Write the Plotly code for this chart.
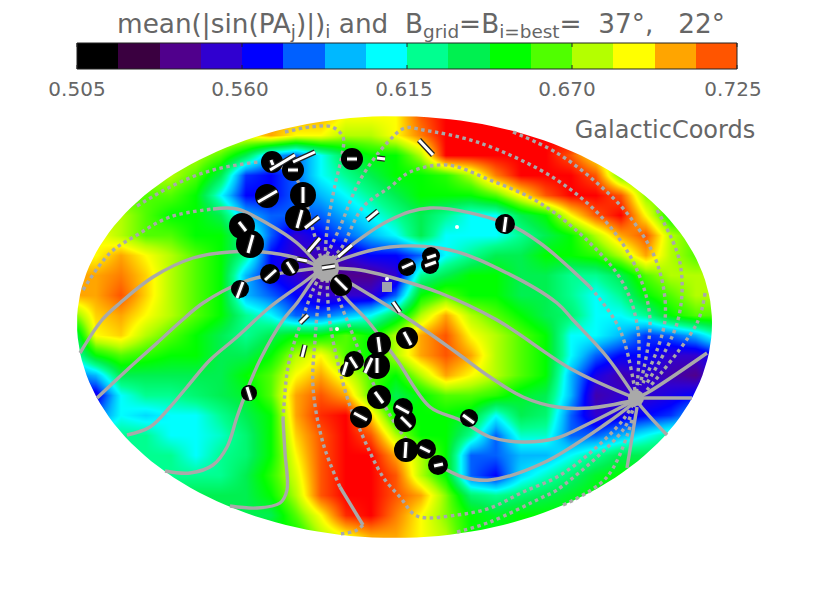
import numpy as np
import plotly.graph_objects as go

W, H = 830, 598
GREY = "#a9a9a9"

# ---- colour bar
BAR_COLORS = ["#000000", "#3a0040", "#50008c", "#3000d0", "#0000ff", "#0060ff", "#00b8ff", "#00ffff",
              "#00ff90", "#00f050", "#00ff00", "#50ff00", "#b4ff00", "#ffff00", "#ffa500", "#ff5500", "#ff0000"]
BAR_VALUES = [0.505, 0.51875, 0.5325, 0.54625, 0.56, 0.57375, 0.5875, 0.60125,
              0.615, 0.62875, 0.6425, 0.65625, 0.67, 0.68375, 0.6975, 0.71125]
TICK_LABELS = ["0.505", "0.560", "0.615", "0.670", "0.725"]
TICK_LABEL_X = [77, 240, 404, 567, 733]

# ---- sky map, read in colour-bar steps (0 = 0.505, 16 = 0.725)
MAP_X = list(range(70, 721, 25))
MAP_Y = list(range(115, 536, 20))
MAP_STEPS = [
 [14,14,14,14,14,14,14,14,14,14,14,13,13,13,15,16,16,16,16,16,16,14,12,12,12,12,12],
 [13,13,13,13,13,13,13,13,14,13,13,12,12,13,14.5,16,16,16,16,16,16,14,12,12,12,12,12],
 [12,12,12,12,12,12,11,9,6,5,7,9,10,10,12,16,16,16,16,16,15,13,11,11,11,11,11],
 [12,12,12,12,12,11,9,4.5,4,5,7,8,9,10,10,10.5,12,14.5,16,16,16,15,11,11,11,11,11],
 [11,11,11,11,11,10,7,4,4,5,6,7,8,9,10,10,10,11,13,15,16,16,15,11.5,11,11,11],
 [12,12,12,11,10,10,9,6,5,5,5,6,7,8,9,8,7,7,9,10,13,15,16,13,10,10,10],
 [13,13,12,11,11,10,10,8,5,3,4,5,6,7,9,7,7,7,8,9,10,12,14,15,12,11,11],
 [13,13,14,13,12,11,10,8,4,3,2.5,3,4,4,5,7,8,9,9,10,10,10.5,12,14,12,11,11],
 [14,14,14.5,13.5,12,11,10,6,4,3,2,2,2,3,8,9,10,10,9,9,8,8,9,11,12,12,12],
 [14,14,15,13.5,12,11,10,6,5,4,3,3,3,5,10,11,10,10,9,9,8,7,8,10,11,12,12],
 [11,13.5,14,13,12,11,10,8,7,5,5,6,7,9,12,14,12,11,10,9,8.5,7,7,8,10,11,11],
 [8,13,13.5,12,11,10,9,8,9,10,10,11,10,12,14,15,13,12,11,10,7,7,6,4.5,5,6,8],
 [7,10,11,10.5,10,10,9,9,10,12,13,11,10,12,14,15,14,12,11,10,7,5,4,4,3,3,4],
 [5,6,9,9,9,9,9,10,11,13,14,12.5,11,10,12,14,13,12,11,10,6,3.5,2.5,3,2.5,2,4],
 [3.5,3.5,7,8,8,8.5,9,9.5,11,14,15,14,11,9,10,11,11,10.5,9.5,9,6,2.5,3,3,3.5,4,6],
 [5,5,7,6.5,7,7,8,9,10,14,15.5,16,13.5,10,10,10,9.5,7,9,8.5,5,3,3.5,4,4.5,6,6],
 [8,8,8,8,7,7,7.5,8.5,10,13.5,15,16,15,12,10,10,8,5,7.5,7.5,5,5,6,7,8,8,8],
 [8,8,8,8,8,7,8,8.5,10,13,15,16,16,14,12,10,5,5,6,6,7,8,9,9,9,9,9],
 [8,8,8,8,8,8,8,9,10.5,12.5,15,16,16,15,12,10,5,4,6.5,7.5,8.5,9.5,10,10,10,10,10],
 [9,9,9,9,9,9,9,9,10,12,15,16,16,15,14,11.5,8.5,8,8.5,9,9.5,10,10,10,10,10,10],
 [9,9,9,9,9,9,9,9,9,11,13,15.5,16,14.5,13,11.5,10,9.5,10,10,10,10,10,10,10,10,10],
 [10,10,10,10,10,10,10,10,10,10,12,13,14,14,13,12,10,10,10,10,10,10,10,10,10,10,10],
]

# ---- grid curves (pixel read-offs)
SOLID_LINES = [
 [(213,209),(237,209),(270,225),(297,243),(320,267)],
 [(80,353),(102,320),(120,303),(153,277),(193,258),(230,252),(263,252),(297,258),(320,267)],
 [(97,398),(127,370),(157,343),(180,322),(203,303),(243,282),(270,275),(303,270),(320,268)],
 [(127,435),(150,427),(170,407),(187,387),(210,360),(237,337),(270,307),(303,283),(320,270)],
 [(165,471),(190,473),(213,465),(227,447),(237,417),(247,390),(260,360),(283,320),(297,303),(313,280),(322,270)],
 [(230,506),(257,508),(280,503),(287,490),(285,453),(283,420)],
 [(328,272),(345,297),(367,320),(397,360),(430,407),(460,420),(490,437),(523,442),(557,438),(590,423),(635,400)],
 [(328,270),(370,295),(410,320),(457,353),(490,377),(523,397),(557,407),(590,408),(635,400)],
 [(328,268),(360,270),(390,277),(440,293),(497,320),(573,370),(635,398)],
 [(328,266),(340,260),(390,247),(450,250),(507,273),(557,303),(573,320),(607,357),(635,397)],
 [(328,264),(345,250),(390,220),(430,208),(505,223),(540,243),(590,287)],
 [(707,353),(647,393),(636,398)],
 [(692,398),(636,398)],
 [(667,435),(640,405),(636,398)],
 [(627,468),(637,407)],
 [(438,465),(463,477),(490,480),(543,463),(607,423),(635,402)],
 [(340,487),(363,525)],
]
DOTTED_LINES = [
 [(137,206),(170,187),(203,173),(237,165),(270,163),(297,180),(313,230),(322,263)],
 [(83,290),(110,253),(137,235),(170,217),(213,209)],
 [(283,420),(287,373),(292,350),(303,317),(313,290),(323,270)],
 [(340,487),(323,443),(313,387),(315,340),(320,290),(325,270)],
 [(327,272),(330,323),(347,397),(360,430),(383,477),(400,497),(417,516),(457,515),(490,508),(523,492),(557,477),(590,453),(623,420),(635,400)],
 [(328,272),(347,320),(373,383),(407,440),(438,465)],
 [(590,287),(620,330),(636,397)],
 [(326,262),(340,250),(363,207),(390,187),(410,172),(447,165),(490,180),(540,203),(590,243),(623,283),(638,330),(636,397)],
 [(327,255),(340,227),(360,180),(387,143),(405,128),(423,130),(480,143),(557,180),(607,223),(637,270),(650,320),(640,385)],
 [(285,132),(310,127),(332,127),(343,137),(342,155),(335,185),(327,230),(325,262)],
 [(513,132),(557,153),(597,183),(630,217),(657,263),(665,320),(643,383)],
 [(657,210),(680,263),(678,320),(647,383)],
 [(705,293),(697,323),(647,390)],
 [(563,505),(607,477),(633,417)],
 [(457,532),(490,522),(543,497),(557,490),(623,430),(635,403)],
 [(363,525),(355,531),(338,534)],
]
POLE_X = [326, 636]
POLE_Y = [268, 398]
POLE_SIZE = [26, 16]

# ---- clusters: centre and radius
DISK_X = [272,293,352,267,303,298,242,250,290,270,240,341,505,407,431,430,249,379,407,354,347,377,379,361,403,405,406,426,438,469]
DISK_Y = [162,170,159,196,195,218,226,244,267,274,289,285,224,267,256,265,393,344,338,361,370,366,397,417,408,421,450,449,465,418]
DISK_R = [11,11,11,12,13,13,13,14,9,10,9,11,10,9,9,9,8,12,11,10,7,13,12,11,10,11,12,10,10,9]

# ---- position-angle bars: x1, y1, x2, y2
BARS = [
 (271,160,273,165),(270,170,295,155),(293,162,315,152),(288,170,298,170),(347,159,357,159),(377,158,385,159),
 (258,202,277,191),(303,187,303,203),(297,228,302,210),(305,228,319,217),(239,222,246,231),(253,235,248,253),
 (308,252,320,238),(338,257,352,245),(367,220,378,211),(300,323,308,315),(297,259,307,261),(322,268,335,266),
 (287,262,294,273),(265,280,276,270),(237,298,243,282),(335,278,347,290),(393,302,400,312),(419,140,433,155),
 (506,217,504,232),(402,268,413,263),(427,258,436,255),(425,266,436,262),(302,357,305,345),(247,387,251,400),
 (378,337,380,352),(404,332,411,345),(350,357,357,368),(343,375,347,362),(365,373,372,358),(377,358,377,373),
 (375,392,383,403),(354,413,367,420),(396,406,409,413),(401,417,411,427),(406,442,405,458),(420,447,430,452),
 (434,466,443,464),(463,415,474,423),
]
DOT_X = [457, 337, 387]
DOT_Y = [227, 329, 279]

TITLE = "mean(|sin(PA<sub>j</sub>)|)<sub>i</sub> and  B<sub>grid</sub>=B<sub>i=best</sub>=  37°,   22°"
COORDS = "GalacticCoords"

# ---- build
colorscale = [[i / 16, c] for i, c in enumerate(BAR_COLORS)]
z_map = 0.505 + np.array(MAP_STEPS, dtype=float) * 0.01375

fig = go.Figure()
fig.add_trace(go.Heatmap(x=MAP_X, y=MAP_Y, z=z_map, zmin=0.505, zmax=0.725, colorscale=colorscale,
                         zsmooth="best", showscale=False, hoverinfo="skip"))
fig.add_trace(go.Heatmap(x0=77 + 660 / 32, dx=660 / 16, y0=56, dy=26, z=[BAR_VALUES], zmin=0.505, zmax=0.725,
                         colorscale=colorscale, zsmooth=False, showscale=False, hoverinfo="skip"))

# white surround that trims the map to its ellipse (lower half slightly deeper, as in the picture)
t = np.linspace(0, -2 * np.pi, 181)
ex = 394.5 + 317.5 * np.cos(t)
ey = 323 + np.where(np.sin(t) > 0, 215, 207) * np.sin(t)
mx = [30, 780, 780] + list(ex) + [780, 780, 30, 30]
my = [100, 100, 323] + list(ey) + [323, 552, 552, 100]
fig.add_trace(go.Scatter(x=mx, y=my, mode="lines", fill="toself", fillcolor="white",
                         line=dict(width=0, color="white"), hoverinfo="skip"))


def add_curves(curves, dash):
    for c in curves:
        xs, ys = zip(*c)
        fig.add_trace(go.Scatter(x=xs, y=ys, mode="lines", hoverinfo="skip",
                                 line=dict(color=GREY, width=3.4, dash=dash, shape="spline", smoothing=1)))


add_curves(SOLID_LINES, "solid")
add_curves(DOTTED_LINES, "3.5px,3.5px")

fig.add_trace(go.Scatter(x=POLE_X, y=POLE_Y, mode="markers", hoverinfo="skip",
                         marker=dict(color=GREY, size=POLE_SIZE, opacity=1, line=dict(width=0))))
fig.add_trace(go.Scatter(x=DISK_X, y=DISK_Y, mode="markers", hoverinfo="skip",
                         marker=dict(color="black", size=[2 * r for r in DISK_R], opacity=1, line=dict(width=0))))

bx, by = [], []
for x1, y1, x2, y2 in BARS:
    bx += [x1, x2, None]
    by += [y1, y2, None]
fig.add_trace(go.Scatter(x=bx, y=by, mode="lines", hoverinfo="skip", line=dict(color="#222222", width=5.5)))
fig.add_trace(go.Scatter(x=bx, y=by, mode="lines", hoverinfo="skip", line=dict(color="white", width=3)))

fig.add_trace(go.Scatter(x=[387], y=[287], mode="markers", hoverinfo="skip",
                         marker=dict(symbol="square", color="#a0a0b0", size=10, opacity=1, line=dict(width=0))))
fig.add_trace(go.Scatter(x=DOT_X, y=DOT_Y, mode="markers", hoverinfo="skip",
                         marker=dict(color="white", size=4, opacity=1, line=dict(width=0))))

shapes = [dict(type="rect", x0=77, x1=737, y0=43, y1=69, line=dict(color="#222222", width=1), layer="above")]
for xt in [77 + 165 * k for k in range(5)]:
    shapes.append(dict(type="line", x0=xt, x1=xt, y0=43, y1=47, line=dict(color="#222222", width=1), layer="above"))
    shapes.append(dict(type="line", x0=xt, x1=xt, y0=65, y1=69, line=dict(color="#222222", width=1), layer="above"))

FONT = "DejaVu Sans"
TEXT = "#666666"
fig.add_trace(go.Scatter(x=[421], y=[26], mode="text", text=[TITLE], textposition="middle center", hoverinfo="skip",
                         textfont=dict(family=FONT, size=26.3, color=TEXT)))
fig.add_trace(go.Scatter(x=[665], y=[132], mode="text", text=[COORDS], textposition="middle center", hoverinfo="skip",
                         textfont=dict(family=FONT, size=24, color=TEXT)))
fig.add_trace(go.Scatter(x=TICK_LABEL_X, y=[91] * 5, mode="text", text=TICK_LABELS, textposition="middle center",
                         hoverinfo="skip", textfont=dict(family=FONT, size=20, color=TEXT)))

fig.update_layout(width=W, height=H, margin=dict(l=0, r=0, t=0, b=0), showlegend=False,
                  paper_bgcolor="white", plot_bgcolor="white", shapes=shapes,
                  xaxis=dict(range=[0, W], visible=False, fixedrange=True),
                  yaxis=dict(range=[H, 0], visible=False, fixedrange=True))
fig.write_html("out.html", config={"displayModeBar": False},
               post_script="document.body.style.margin='0';document.body.style.overflow='hidden';")
